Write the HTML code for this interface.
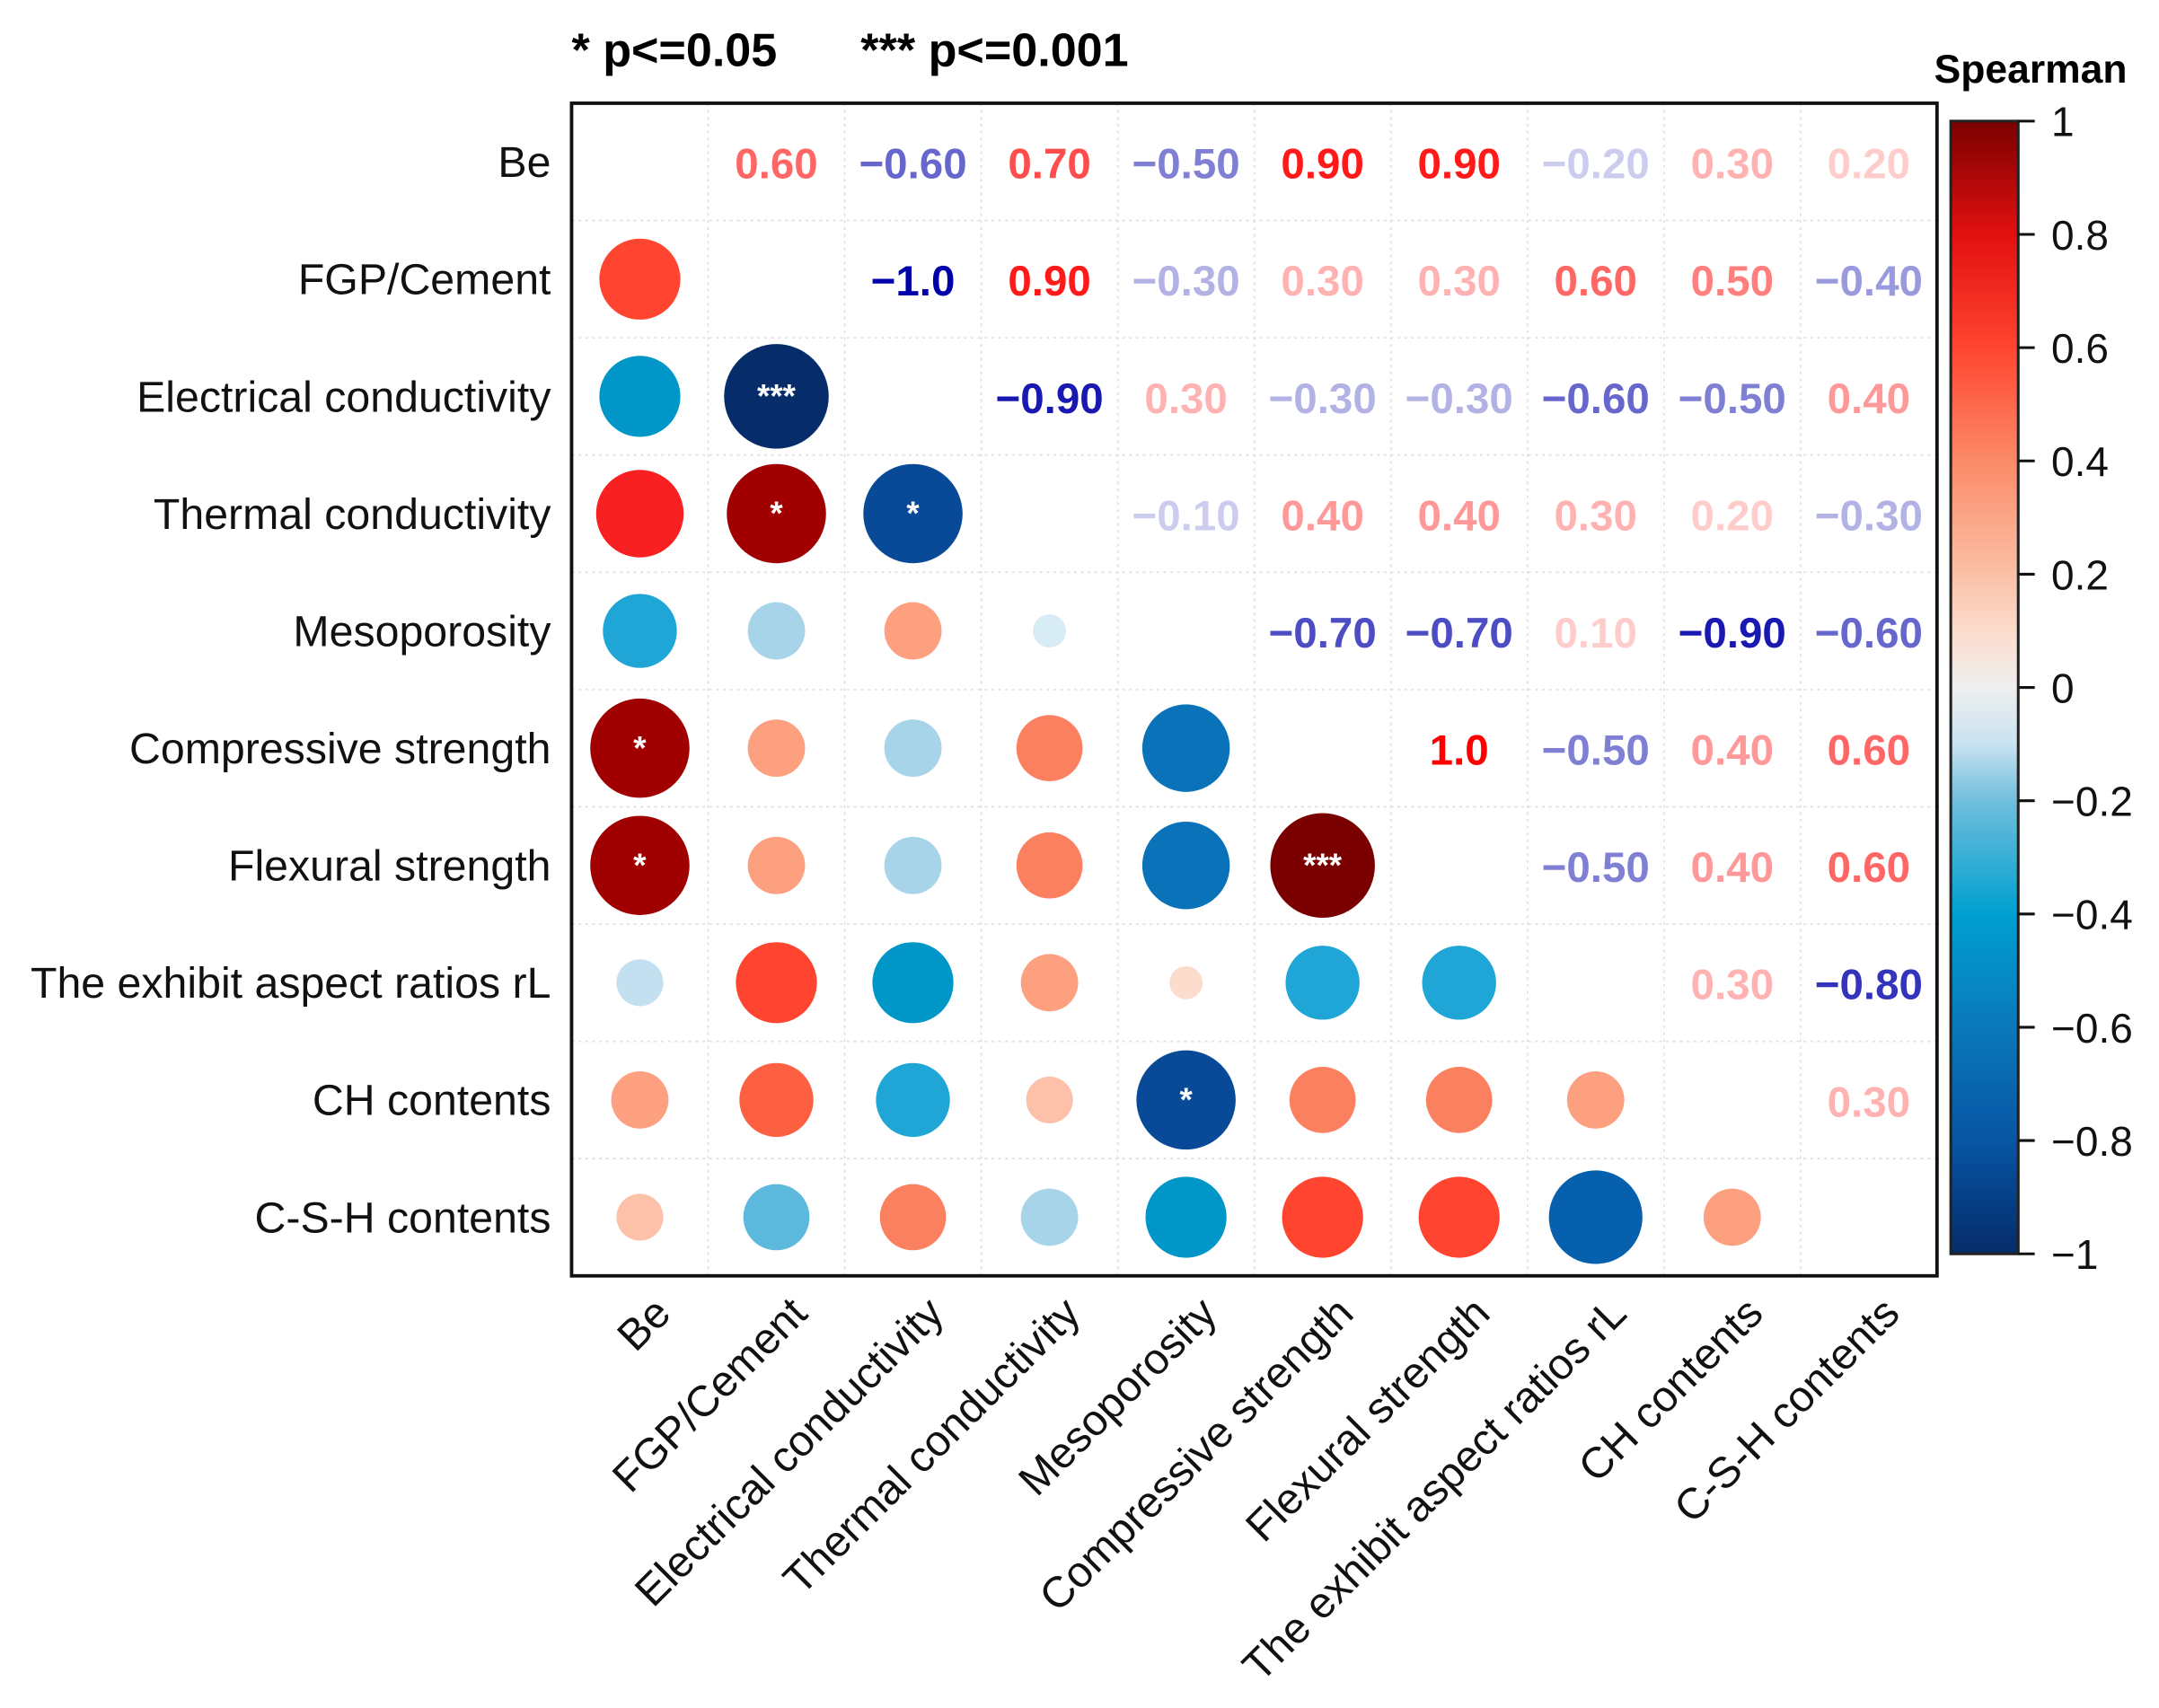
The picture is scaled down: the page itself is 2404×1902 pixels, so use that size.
<!DOCTYPE html>
<html><head><meta charset="utf-8"><style>
html,body{margin:0;padding:0;background:#fff;}
svg{display:block;font-family:"Liberation Sans",Arial,sans-serif;}
</style></head><body>
<svg id="chart" width="2404" height="1902" viewBox="0 0 1568 1241" xmlns="http://www.w3.org/2000/svg">
<defs>
<linearGradient id="cbgrad" x1="0" y1="1" x2="0" y2="0">
<stop offset="0" stop-color="#062c6a"/><stop offset="0.1" stop-color="#0755a4"/><stop offset="0.2" stop-color="#0a78bc"/><stop offset="0.3" stop-color="#00a0d0"/><stop offset="0.4" stop-color="#70bedc"/><stop offset="0.45" stop-color="#c8e2f0"/><stop offset="0.5" stop-color="#efefef"/><stop offset="0.55" stop-color="#fbdccc"/><stop offset="0.6" stop-color="#fbc0a6"/><stop offset="0.7" stop-color="#fb8a68"/><stop offset="0.8" stop-color="#ff4530"/><stop offset="0.9" stop-color="#e21010"/><stop offset="1" stop-color="#7a0000"/>
</linearGradient>
</defs>
<text x="415" y="48" font-size="34" font-weight="bold">* p&lt;=0.05</text>
<text x="625" y="48" font-size="34" font-weight="bold">*** p&lt;=0.001</text>
<g id="grid"></g>
<g id="marks"></g>
<rect x="415" y="75" width="992" height="852" fill="none" stroke="#111" stroke-width="2.5"/>
<g id="rowlabels"></g>
<g id="collabels"></g>
<text x="1475" y="60" font-size="29" font-weight="bold" text-anchor="middle">Spearman</text>
<rect x="1417" y="88" width="49" height="823" fill="url(#cbgrad)" stroke="#222" stroke-width="2"/>
<g id="cbticks"></g>
</svg>
<script>
const labels = ["Be","FGP/Cement","Electrical conductivity","Thermal conductivity","Mesoporosity","Compressive strength","Flexural strength","The exhibit aspect ratios rL","CH contents","C-S-H contents"];
const upper = [
 [0.6,-0.6,0.7,-0.5,0.9,0.9,-0.2,0.3,0.2],
 [-1.0,0.9,-0.3,0.3,0.3,0.6,0.5,-0.4],
 [-0.9,0.3,-0.3,-0.3,-0.6,-0.5,0.4],
 [-0.1,0.4,0.4,0.3,0.2,-0.3],
 [-0.7,-0.7,0.1,-0.9,-0.6],
 [1.0,-0.5,0.4,0.6],
 [-0.5,0.4,0.6],
 [0.3,-0.8],
 [0.3]
];
const sigPairs = [[1,2,"***"],[1,3,"*"],[2,3,"*"],[0,5,"*"],[0,6,"*"],[5,6,"***"],[4,8,"*"]];
const cbTicks = [1,0.8,0.6,0.4,0.2,0,-0.2,-0.4,-0.6,-0.8,-1];

const NS="http://www.w3.org/2000/svg";
const n=labels.length, L=415,T=75,W=992,H=852, cw=W/n, ch=H/n;
const cx=j=>L+cw*(j+0.5), cy=i=>T+ch*(i+0.5);
const rad=v=>38*Math.sqrt(Math.abs(v));
const stops=[[-1,"#062c6a"],[-0.9,"#084a98"],[-0.8,"#0660ad"],[-0.7,"#0a72b8"],[-0.6,"#0096c8"],[-0.5,"#1fa6d6"],[-0.4,"#5cb8dd"],[-0.3,"#a8d4ea"],[-0.2,"#c2e0f0"],[-0.1,"#d8ecf6"],[0,"#f2f2f2"],[0.1,"#fcdccc"],[0.2,"#fdc0a8"],[0.3,"#fca080"],[0.4,"#fb8060"],[0.5,"#fc6040"],[0.6,"#ff4530"],[0.7,"#f82020"],[0.8,"#d81010"],[0.9,"#a00000"],[1,"#7a0000"]];
function color(v){let best=stops[0];for(const s of stops){if(Math.abs(s[0]-v)<Math.abs(best[0]-v))best=s;}return best[1];}
function val(i,j){if(i===j)return null;const a=Math.min(i,j),b=Math.max(i,j);return upper[a][b-a-1];}
function mk(tag,attrs,parent){const e=document.createElementNS(NS,tag);for(const k in attrs)e.setAttribute(k,attrs[k]);parent.appendChild(e);return e;}
const grid=document.getElementById('grid'),marks=document.getElementById('marks');
for(let k=1;k<n;k++){
 let l1=mk('line',{x1:L+cw*k,y1:T,x2:L+cw*k,y2:T+H,stroke:'#ddd','stroke-width':1,'stroke-dasharray':'2,3'},grid);
 
 
 let l2=mk('line',{x1:L,y1:T+ch*k,x2:L+W,y2:T+ch*k,stroke:'#ddd','stroke-width':1,'stroke-dasharray':'2,3'},grid);
 
 
}
const sig={};sigPairs.forEach(p=>{sig[p[0]+'-'+p[1]]=p[2];});
for(let i=0;i<n;i++)for(let j=0;j<n;j++){
 const v=val(i,j); if(v===null)continue;
 if(i>j){
  const c=mk('circle',{cx:cx(j),cy:cy(i),r:rad(v),fill:color(v)},marks);
  
  
  const s=sig[j+'-'+i];
  if(s){const t=mk('text',{x:cx(j),y:cy(i)+8,'text-anchor':'middle','font-size':24,'font-weight':'bold',fill:'#fff'},marks);t.textContent=s;
   
   }
 } else {
  const a=Math.max(0.2,Math.abs(v));
  const fill=v>0?`rgba(255,0,0,${a})`:`rgba(0,0,170,${a})`;
  const t=mk('text',{x:cx(j),y:cy(i)+12,'text-anchor':'middle','font-size':31,'font-weight':'bold',fill:fill},marks);
  t.textContent=(v<0?'\u2212':'')+(Math.abs(v)===1?'1.0':Math.abs(v).toFixed(2));
  
  
 }
}
const rl=document.getElementById('rowlabels'),cl=document.getElementById('collabels');
labels.forEach((lab,i)=>{
 const t=mk('text',{x:400,y:cy(i)+11,'text-anchor':'end','font-size':31.5,fill:'#111'},rl);t.textContent=lab;
 
 
 const x=cx(i)+24,y=956;
 const u=mk('text',{x:x,y:y,'text-anchor':'end','font-size':31.5,fill:'#111',transform:`rotate(-45 ${x} ${y})`},cl);u.textContent=lab;
 
 
});
const cb=document.getElementById('cbticks');
const cbY=v=>88+(1-v)/2*823;
cbTicks.forEach(v=>{
 const l=mk('line',{x1:1466,x2:1478,y1:cbY(v),y2:cbY(v),stroke:'#111','stroke-width':2},cb);
 
 
 const t=mk('text',{x:1490,y:cbY(v)+11,'font-size':30,fill:'#111'},cb);
 t.textContent=(v<0?'\u2212':'')+String(Math.abs(v));
 
 
});
</script>
</body></html>
